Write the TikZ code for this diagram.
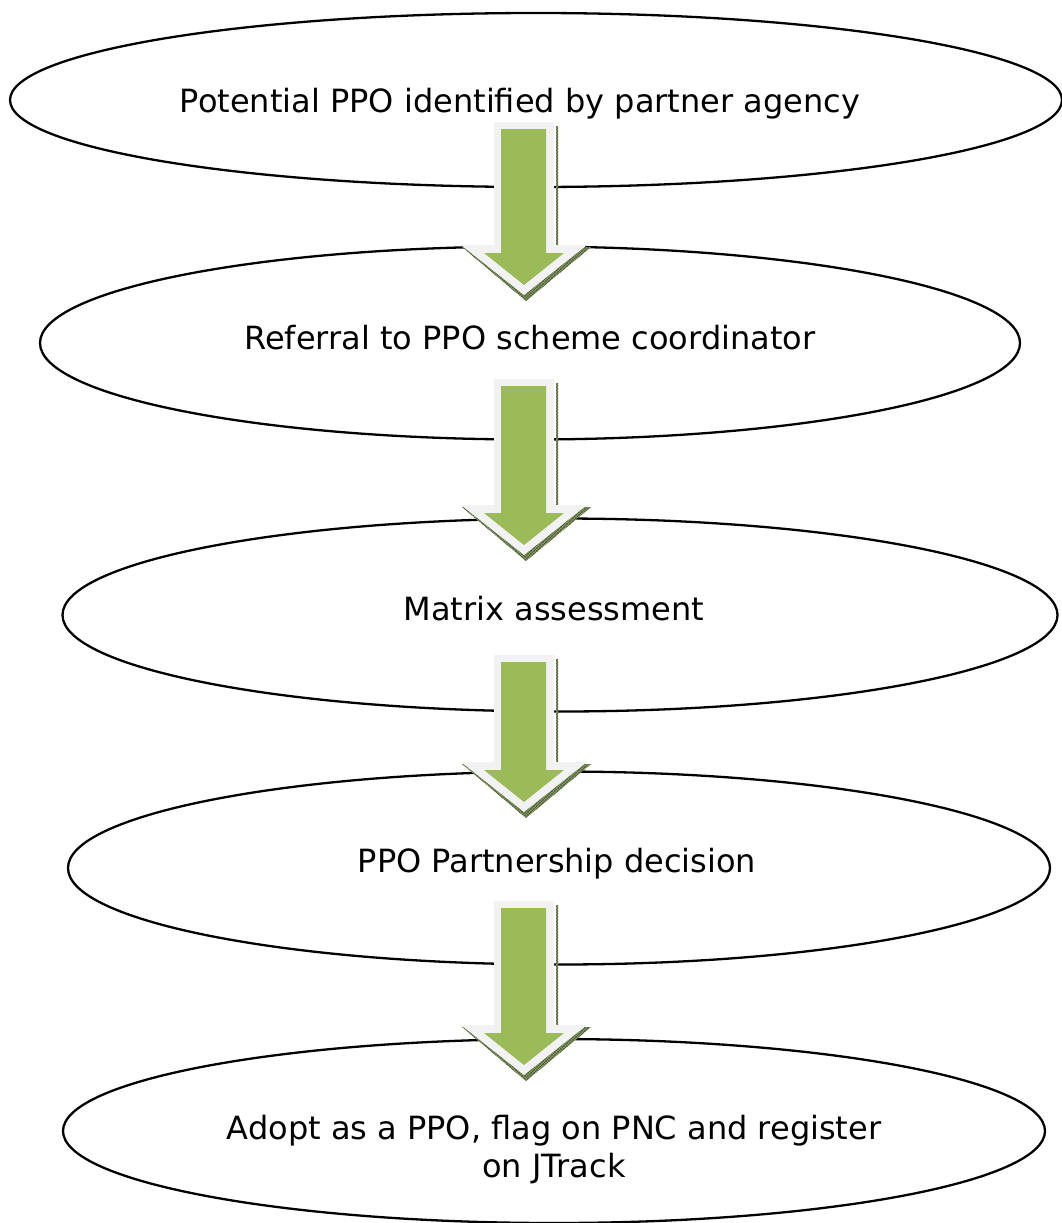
\documentclass[tikz,border=0pt]{standalone}
\usepackage{fontspec}
\setmainfont{DejaVu Sans}
\usetikzlibrary{shapes.geometric,patterns}
\definecolor{arrgreen}{HTML}{9BBB59}
\definecolor{arrrim}{HTML}{F2F2F2}
\definecolor{arrshade}{HTML}{8FA46A}
\tikzset{
  stage/.style={ellipse, draw=black, line width=2.3pt, inner sep=0pt},
  stagetext/.style={anchor=base, align=center, inner sep=0pt,
    font=\fontsize{32}{38}\selectfont},
}
\newcommand{\blockarrow}[3]{% name, top, head
  \begin{scope}
  \fill[arrshade] (556,#2+4) -- (558,#2+4) -- (558,#3+2) -- (591,#3+2) -- (526,#3+56) -- (462,#3+2) -- (556,#3+2) -- cycle;
  \fill[pattern=crosshatch, pattern color=arrshade!55!black] (556,#2+4) -- (558,#2+4) -- (558,#3+2) -- (591,#3+2) -- (526,#3+56) -- (462,#3+2) -- (556,#3+2) -- cycle;
  \fill[arrrim] (494,#2) -- (554,#2) -- (554,#3) -- (587,#3) -- (524,#3+50) -- (461,#3) -- (494,#3) -- cycle;
  \fill[arrgreen] (501,#2+7) -- (546,#2+7) -- (546,#3+8) -- (564,#3+8) -- (524,#3+40) -- (484,#3+8) -- (501,#3+8) -- cycle;
  \coordinate (#1) at (524,#3+50);
  \end{scope}
}
\begin{document}
\begin{tikzpicture}[x=1pt,y=-1pt]
\useasboundingbox (0,0) rectangle (1062,1223);
\node[stage, minimum width=1052pt, minimum height=174pt] (e1) at (536,100) {};
\node[stage, minimum width=980pt, minimum height=193pt] (e2) at (530,343) {};
\node[stage, minimum width=995pt, minimum height=193pt] (e3) at (560,615) {};
\node[stage, minimum width=982pt, minimum height=193pt] (e4) at (559,868) {};
\node[stage, minimum width=982pt, minimum height=184pt] (e5) at (554,1131) {};
\node[stagetext] (t1) at (520,112) {Potential PPO identified by partner agency};
\node[stagetext] (t2) at (530,349) {Referral to PPO scheme coordinator};
\node[stagetext] (t3) at (554,620) {Matrix assessment};
\node[stagetext] (t4) at (557,872) {PPO Partnership decision};
\node[stagetext] (t5) at (554,1177) {Adopt as a PPO, flag on PNC and register\\on JTrack};
\blockarrow{a1}{122}{245}
\blockarrow{a2}{379}{505}
\blockarrow{a3}{655}{762}
\blockarrow{a4}{901}{1025}
\end{tikzpicture}
\end{document}
